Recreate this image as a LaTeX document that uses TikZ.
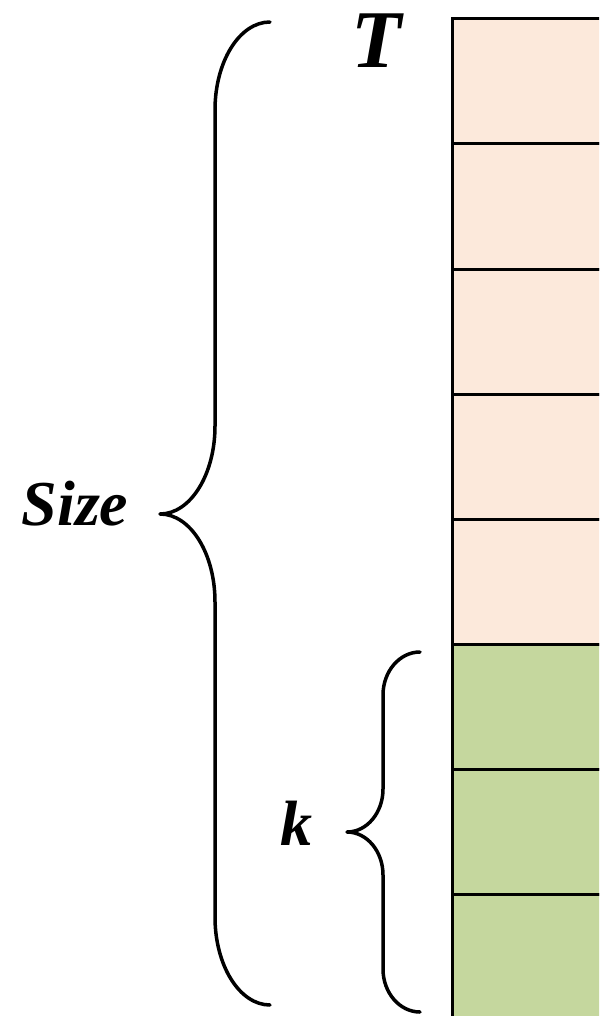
\documentclass[tikz,border=0pt]{standalone}
\usepackage{fontspec}
\setmainfont{Liberation Serif}
\usetikzlibrary{positioning}
\definecolor{peach}{HTML}{FCE9DB}
\definecolor{leaf}{HTML}{C5D79E}
\tikzset{
  cellbox/.style={draw=black, line width=3pt, minimum width=200pt, minimum height=125pt,
    outer sep=0pt, inner sep=0pt},
  upper/.style={cellbox, fill=peach},
  lower/.style={cellbox, fill=leaf},
  bracepath/.style={draw=black, line width=3.5pt, line cap=round, line join=round},
  lbl/.style={font=\bfseries\itshape, inner sep=0pt, anchor=base}
}
\begin{document}
\begin{tikzpicture}[x=1pt, y=-1pt]
\useasboundingbox (0,0) rectangle (599,1016);
\begin{scope}
\clip (0,0) rectangle (599,1016);
% stack of cells
\node[upper, anchor=north west] (c1) at (452,19) {};
\node[upper, below=0pt of c1] (c2) {};
\node[upper, below=0pt of c2] (c3) {};
\node[upper, below=0pt of c3] (c4) {};
\node[upper, below=0pt of c4] (c5) {};
\node[lower, below=0pt of c5] (c6) {};
\node[lower, below=0pt of c6] (c7) {};
\node[lower, below=0pt of c7] (c8) {};
\end{scope}

% labels
\node[lbl, font=\fontsize{82}{82}\selectfont\bfseries\itshape] (t) at (377,68) {T};
\node[lbl, font=\fontsize{64}{64}\selectfont\bfseries\itshape] (size) at (75,525) {Size};
\node[lbl, font=\fontsize{64}{64}\selectfont\bfseries\itshape] (k) at (296,845) {k};

% large brace
\draw[bracepath] (270,22) .. controls (239.6,22) and (215,61.4) .. (215,110)
  -- (215,426) .. controls (215,474.6) and (190.4,514) .. (160,514)
  .. controls (190.4,514) and (215,553.4) .. (215,602)
  -- (215,917) .. controls (215,965.6) and (239.6,1005) .. (270,1005);

% small brace
\draw[bracepath] (420,652) .. controls (399.6,652) and (383,671.3) .. (383,695)
  -- (383,789) .. controls (383,812.7) and (366.9,832) .. (347,832)
  .. controls (366.9,832) and (383,851.3) .. (383,875)
  -- (383,969) .. controls (383,992.7) and (399.6,1012) .. (420,1012);
\end{tikzpicture}
\end{document}
